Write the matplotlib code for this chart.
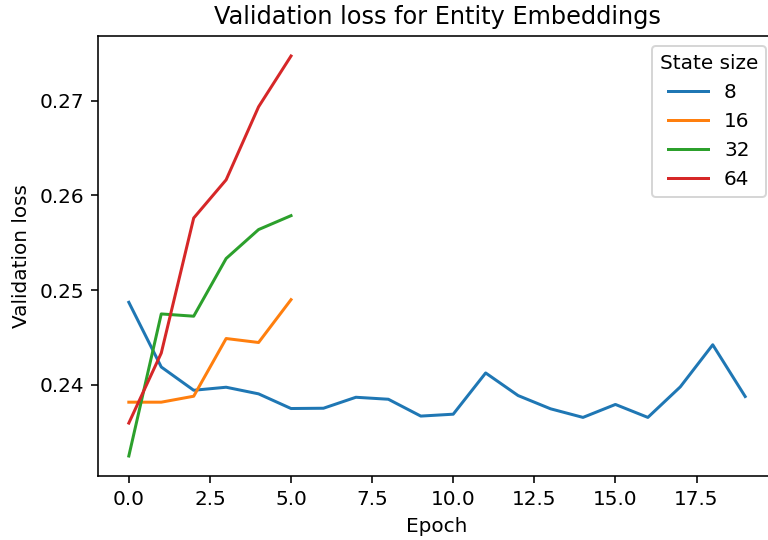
import matplotlib
matplotlib.use("Agg")
import matplotlib.pyplot as plt

state_sizes = ["8", "16", "32", "64"]
loss_8 = [0.24870, 0.24186, 0.23940, 0.23972, 0.23902, 0.23747, 0.23750, 0.23866,
          0.23845, 0.23667, 0.23687, 0.24123, 0.23884, 0.23744, 0.23653, 0.23790,
          0.23653, 0.23976, 0.24421, 0.23874]
loss_16 = [0.23814, 0.23814, 0.23877, 0.24487, 0.24445, 0.24898]
loss_32 = [0.23245, 0.24747, 0.24723, 0.25333, 0.25639, 0.25786]
loss_64 = [0.23593, 0.24333, 0.25761, 0.26165, 0.26937, 0.27474]
series = [loss_8, loss_16, loss_32, loss_64]

DPI = 144
fig = plt.figure(figsize=(768/DPI, 540/DPI), dpi=DPI)
ax = fig.add_axes([98/768, 64/540, 678/768, 440/540])
for lbl, vals in zip(state_sizes, series):
    ax.plot(range(len(vals)), vals, label=lbl)
ax.set_title("Validation loss for Entity Embeddings")
ax.set_xlabel("Epoch")
ax.set_ylabel("Validation loss")
ax.legend(title="State size", loc="upper right")
fig.savefig("out.png", dpi=DPI)
